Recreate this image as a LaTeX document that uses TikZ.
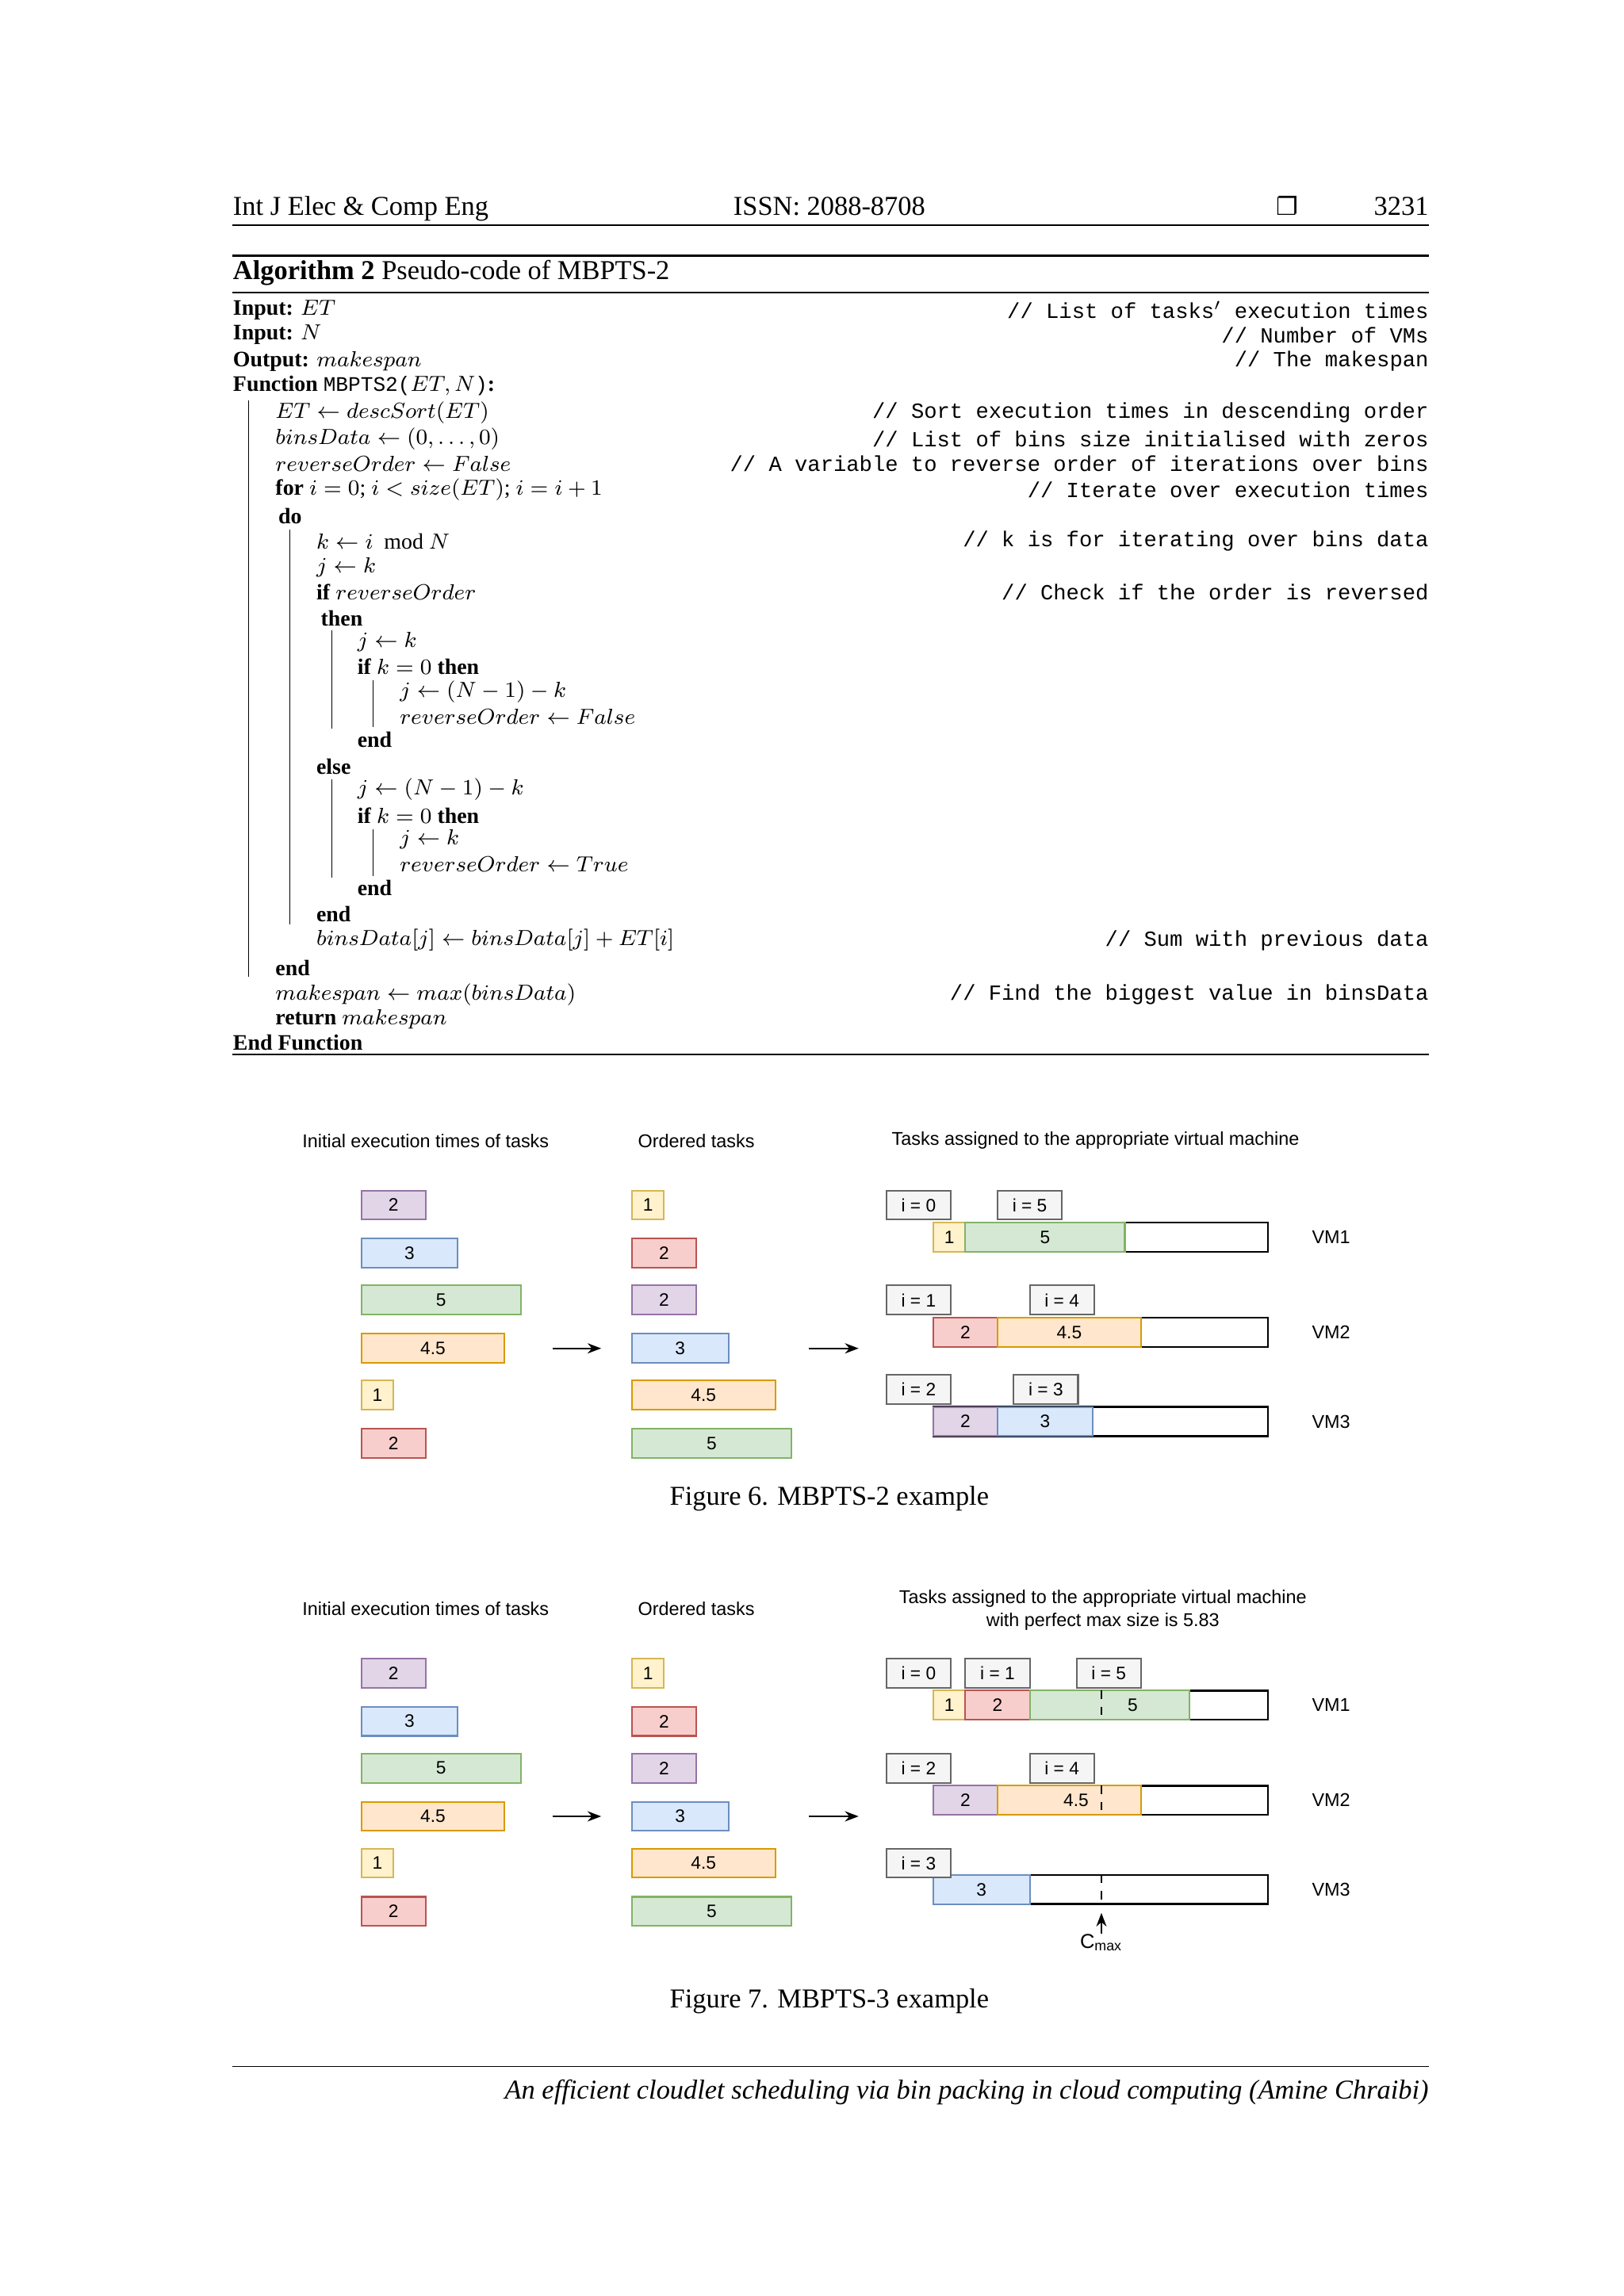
\documentclass[tikz,border=0pt]{standalone}
\usepackage{fontspec}
\setmainfont{Liberation Serif}
\setmonofont{Liberation Mono}
\newfontfamily\dsans{Liberation Sans}
\newfontfamily\dsym{DejaVu Sans}
\usetikzlibrary{arrows.meta}
\definecolor{pf}{HTML}{E1D5E7}\definecolor{pd}{HTML}{9673A6}
\definecolor{bf}{HTML}{DAE8FC}\definecolor{bd}{HTML}{6C8EBF}
\definecolor{gf}{HTML}{D5E8D4}\definecolor{gd}{HTML}{82B366}
\definecolor{of}{HTML}{FFE6CC}\definecolor{od}{HTML}{D79B00}
\definecolor{yf}{HTML}{FFF2CC}\definecolor{yd}{HTML}{D6B656}
\definecolor{rf}{HTML}{F8CECC}\definecolor{rd}{HTML}{B85450}
\definecolor{lf}{HTML}{F5F5F5}\definecolor{ld}{HTML}{666666}
\tikzset{
 alg/.style={anchor=west,inner sep=0,font=\fontsize{8.1}{9.5}\selectfont},
 cmt/.style={anchor=east,inner sep=0,font=\ttfamily\fontsize{7.9}{9}\selectfont},
 tb/.style={draw,line width=0.6pt,inner sep=0,minimum height=10.7pt,font=\dsans\fontsize{6.6}{8}\selectfont},
 P/.style={tb,fill=pf,draw=pd},B/.style={tb,fill=bf,draw=bd},G/.style={tb,fill=gf,draw=gd},
 O/.style={tb,fill=of,draw=od},Y/.style={tb,fill=yf,draw=yd},R/.style={tb,fill=rf,draw=rd},
 L/.style={tb,fill=lf,draw=ld},
 bin/.style={draw,line width=0.7pt,inner sep=0,minimum height=10.7pt},
 dt/.style={inner sep=0,font=\dsans\fontsize{6.8}{8.5}\selectfont,align=center},
 bar/.style={line width=0.4pt},
 arr/.style={-{Stealth[length=5pt]},line width=0.6pt}
}
\newcommand{\tbx}[6]{\node[#5,minimum width={(#3-#2)*0.5361pt}] (#1) at ({(#2+#3)/2},#4) {#6};}
\begin{document}
\begin{tikzpicture}[x=0.5361pt,y=-0.5361pt]
\useasboundingbox (0,0) rectangle (1110,1570);
\fill[white] (0,0) rectangle (1110,1570);
% header
\node[anchor=base west,inner sep=0,font=\fontsize{10}{12}\selectfont] (h1) at (159,147) {Int J Elec \& Comp Eng};
\node[anchor=base,inner sep=0,font=\fontsize{10}{12}\selectfont] (h2) at (567,147) {ISSN: 2088-8708};
\node[anchor=base,inner sep=0,font=\dsym\fontsize{9}{12}\selectfont] (h3) at (880,147) {❐};
\node[anchor=base east,inner sep=0,font=\fontsize{10}{12}\selectfont] (h4) at (977,147) {3231};
\draw[line width=0.5pt] (159,154) -- (977,154);
% algorithm
\draw[line width=0.9pt] (159,175) -- (977,175);
\node[anchor=base west,inner sep=0,font=\fontsize{10}{12}\selectfont] (cap) at (159,191) {\textbf{Algorithm 2} Pseudo-code of MBPTS-2};
\draw[line width=0.5pt] (159,200) -- (977,200);
\node[alg] (a1) at (159,212) {\textbf{Input:} $ET$};
\node[cmt] (c1) at (977,212) {// List of tasks$'$ execution times};
\node[alg] (a2) at (159,229) {\textbf{Input:} $N$};
\node[cmt] (c2) at (977,229) {// Number of VMs};
\node[alg] (a3) at (159,247) {\textbf{Output:} $makespan$};
\node[cmt] (c3) at (977,247) {// The makespan};
\node[alg] (a4) at (159,264) {\textbf{Function} {\ttfamily\fontsize{7.6}{9}\selectfont MBPTS2(}$ET,N${\ttfamily\fontsize{7.6}{9}\selectfont)}\textbf{:}};
\node[alg] (a5) at (188,282) {$ET \leftarrow descSort(ET)$};
\node[cmt] (c5) at (977,282) {// Sort execution times in descending order};
\node[alg] (a6) at (188,300) {$binsData \leftarrow (0,\ldots,0)$};
\node[cmt] (c6) at (977,300) {// List of bins size initialised with zeros};
\node[alg] (a7) at (188,317) {$reverseOrder \leftarrow False$};
\node[cmt] (c7) at (977,317) {// A variable to reverse order of iterations over bins};
\node[alg] (a8) at (188,335) {\textbf{for} $i=0$; $i<size(ET)$; $i=i+1$};
\node[cmt] (c8) at (977,335) {// Iterate over execution times};
\node[alg] (a9) at (190,353) {\textbf{do}};
\node[alg] (a10) at (216,370) {$k \leftarrow i\ \ \mathrm{mod}\ N$};
\node[cmt] (c10) at (977,370) {// k is for iterating over bins data};
\node[alg] (a11) at (216,388) {$j \leftarrow k$};
\node[alg] (a12) at (216,405) {\textbf{if} $reverseOrder$};
\node[cmt] (c12) at (977,405) {// Check if the order is reversed};
\node[alg] (a13) at (219,423) {\textbf{then}};
\node[alg] (a14) at (244,439) {$j \leftarrow k$};
\node[alg] (a15) at (244,456) {\textbf{if} $k=0$ \textbf{then}};
\node[alg] (a16) at (273,473) {$j \leftarrow (N-1)-k$};
\node[alg] (a17) at (273,490) {$reverseOrder \leftarrow False$};
\node[alg] (a18) at (244,506) {\textbf{end}};
\node[alg] (a19) at (216,524) {\textbf{else}};
\node[alg] (a20) at (244,540) {$j \leftarrow (N-1)-k$};
\node[alg] (a21) at (244,558) {\textbf{if} $k=0$ \textbf{then}};
\node[alg] (a22) at (273,574) {$j \leftarrow k$};
\node[alg] (a23) at (273,591) {$reverseOrder \leftarrow True$};
\node[alg] (a24) at (244,607) {\textbf{end}};
\node[alg] (a25) at (216,625) {\textbf{end}};
\node[alg] (a26) at (216,643) {$binsData[j] \leftarrow binsData[j] + ET[i]$};
\node[cmt] (c26) at (977,643) {// Sum with previous data};
\node[alg] (a27) at (188,662) {\textbf{end}};
\node[alg] (a28) at (188,680) {$makespan \leftarrow max(binsData)$};
\node[cmt] (c28) at (977,680) {// Find the biggest value in binsData};
\node[alg] (a29) at (188,697) {\textbf{return} $makespan$};
\node[alg] (a30) at (159,713) {\textbf{End Function}};
\draw[line width=0.5pt] (159,721) -- (977,721);
\draw[bar] (170,274) -- (170,668);
\draw[bar] (198,362) -- (198,632);
\draw[bar] (227,431) -- (227,498);
\draw[bar] (227,533) -- (227,600);
\draw[bar] (255,465) -- (255,497);
\draw[bar] (255,567) -- (255,599);
% Figures
\foreach \o/\n in {0/6,320/7}{
 \begin{scope}[yshift={-\o*0.5361pt}]
 \node[dt] (t1\n) at (291,780) {Initial execution times of tasks};
 \node[dt] (t2\n) at (476,780) {Ordered tasks};
 \tbx{c1a\n}{247}{291}{824}{P}{2}
 \tbx{c1b\n}{247}{313}{857}{B}{3}
 \tbx{c1c\n}{247}{356}{889}{G}{5}
 \tbx{c1d\n}{247}{345}{922}{O}{4.5}
 \tbx{c1e\n}{247}{269}{954}{Y}{1}
 \tbx{c1f\n}{247}{291}{987}{R}{2}
 \tbx{c2a\n}{432}{454}{824}{Y}{1}
 \tbx{c2b\n}{432}{476}{857}{R}{2}
 \tbx{c2c\n}{432}{476}{889}{P}{2}
 \tbx{c2d\n}{432}{498}{922}{B}{3}
 \tbx{c2e\n}{432}{530}{954}{O}{4.5}
 \tbx{c2f\n}{432}{541}{987}{G}{5}
 \coordinate (p1\n) at (378,922); \coordinate (p2\n) at (411,922);
 \coordinate (p3\n) at (553,922); \coordinate (p4\n) at (587,922);
 \draw[arr] (p1\n) -- (p2\n); \draw[arr] (p3\n) -- (p4\n);
 \end{scope}}
% Fig 6 bins
\node[dt] (t36) at (749,780) {Tasks assigned to the appropriate virtual machine};
\tbx{v16}{638}{867}{846}{bin}{}
\tbx{v26}{638}{867}{911}{bin}{}
\tbx{v36}{638}{867}{972}{bin}{}
\tbx{a16}{638}{660}{846}{Y}{1}
\tbx{b16}{660}{769}{846}{G}{5}
\tbx{a26}{638}{682}{911}{R}{2}
\tbx{b26}{682}{780}{911}{O}{4.5}
\tbx{a36}{638}{682}{972}{P}{2}
\tbx{b36}{682}{747}{972}{B}{3}
\tbx{l06}{606}{650}{824}{L}{i = 0}
\tbx{l56}{682}{726}{824}{L}{i = 5}
\tbx{l16}{606}{650}{889}{L}{i = 1}
\tbx{l46}{704}{748}{889}{L}{i = 4}
\tbx{l26}{606}{650}{950}{L}{i = 2}
\tbx{l36}{693}{737}{950}{L}{i = 3}
\node[dt] (vm16) at (910,846) {VM1};
\node[dt] (vm26) at (910,911) {VM2};
\node[dt] (vm36) at (910,972) {VM3};
\node[anchor=base,inner sep=0,font=\fontsize{10}{12}\selectfont] (f6) at (567,1029) {Figure 6. MBPTS-2 example};
% Fig 7 bins
\node[dt] (t37) at (754,1101) {Tasks assigned to the appropriate virtual machine\\with perfect max size is 5.83};
\tbx{v17}{638}{867}{1166}{bin}{}
\tbx{v27}{638}{867}{1231}{bin}{}
\tbx{v37}{638}{867}{1292}{bin}{}
\tbx{a17}{638}{660}{1166}{Y}{1}
\tbx{b17}{660}{704}{1166}{R}{2}
\tbx{g17}{704}{813}{1166}{G}{\hspace*{17pt}5}
\tbx{a27}{638}{682}{1231}{P}{2}
\tbx{b27}{682}{780}{1231}{O}{\hspace*{5pt}4.5}
\tbx{a37}{638}{704}{1292}{B}{3}
\tbx{l07}{606}{650}{1144}{L}{i = 0}
\tbx{l17}{660}{704}{1144}{L}{i = 1}
\tbx{l57}{736}{780}{1144}{L}{i = 5}
\tbx{l27}{606}{650}{1209}{L}{i = 2}
\tbx{l47}{704}{748}{1209}{L}{i = 4}
\tbx{l37}{606}{650}{1274}{L}{i = 3}
\foreach \y in {1166,1231,1292}{\draw[dashed,line width=0.6pt] (753,\y-10) -- (753,\y+10);}
\node[dt] (vm17) at (910,1166) {VM1};
\node[dt] (vm27) at (910,1231) {VM2};
\node[dt] (vm37) at (910,1292) {VM3};
\node[dt,anchor=north,font=\dsans\fontsize{7.4}{8.5}\selectfont] (cm) at (753,1322) {C\textsubscript{max}};
\coordinate (cmt) at (753,1308);
\draw[arr] (cm.north) -- (cmt);
\node[anchor=base,inner sep=0,font=\fontsize{10}{12}\selectfont] (f7) at (567,1373) {Figure 7. MBPTS-3 example};
% footer
\draw[line width=0.5pt] (159,1413) -- (977,1413);
\node[anchor=base east,inner sep=0,font=\itshape\fontsize{10}{12}\selectfont] (ft) at (977,1435) {An efficient cloudlet scheduling via bin packing in cloud computing (Amine Chraibi)};
\end{tikzpicture}
\end{document}
